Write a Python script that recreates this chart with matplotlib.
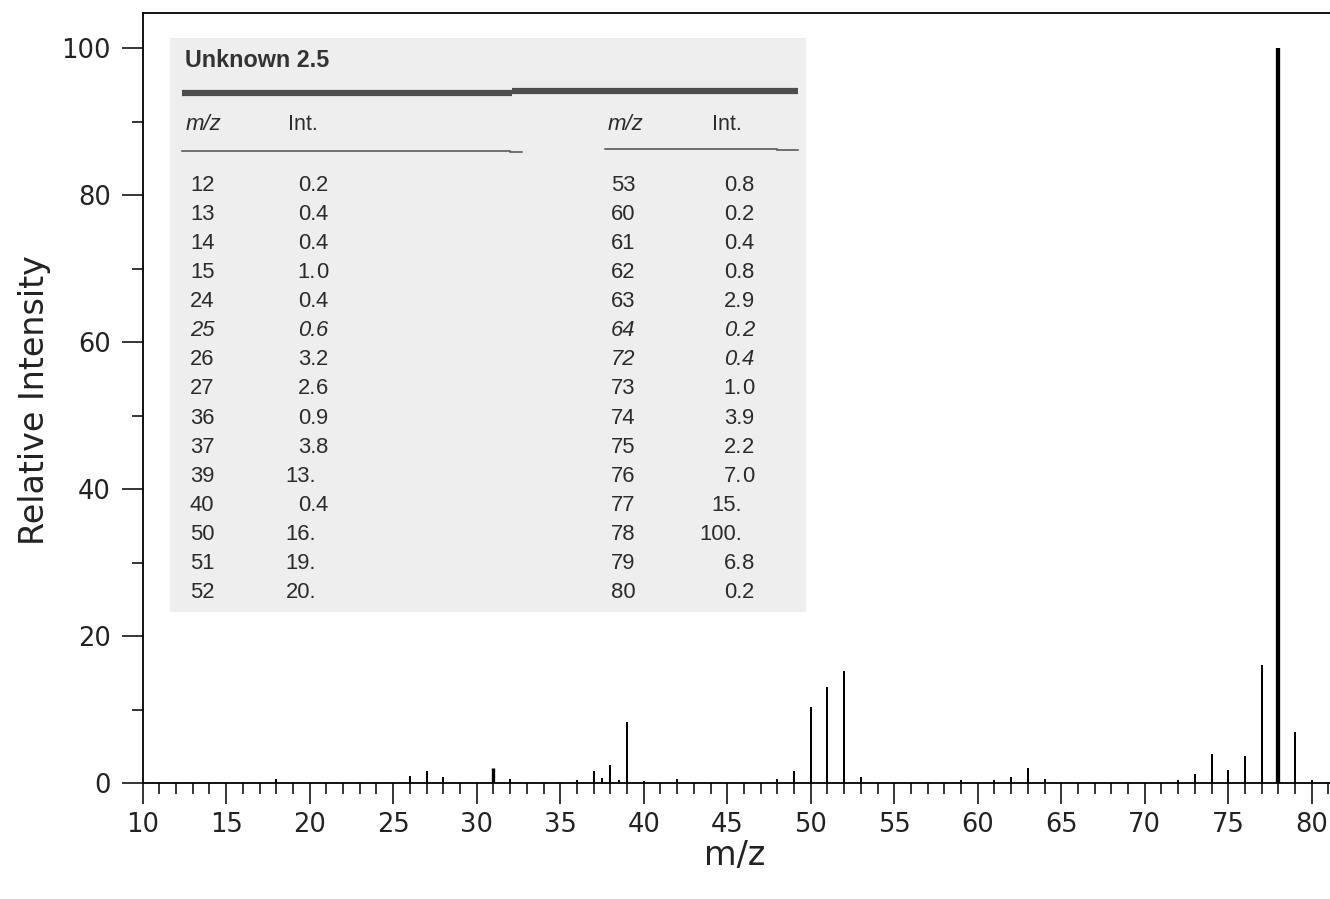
import matplotlib
matplotlib.use("Agg")
import matplotlib.pyplot as plt
from matplotlib.ticker import MultipleLocator
from matplotlib.patches import Rectangle
from matplotlib.lines import Line2D

# ---------------- data ----------------
spec_mz = [18, 26, 27, 28, 31, 32, 36, 37, 37.5, 38, 38.5, 39, 40, 42,
           48, 49, 50, 51, 52, 53, 59, 61, 62, 63, 64,
           72, 73, 74, 75, 76, 77, 78, 79, 80]
spec_int = [0.6, 1.0, 1.6, 0.8, 2.0, 0.5, 0.4, 1.7, 0.7, 2.5, 0.4, 8.3, 0.3, 0.5,
            0.6, 1.6, 10.4, 13.0, 15.2, 0.8, 0.4, 0.4, 0.8, 2.1, 0.5,
            0.4, 1.2, 3.9, 1.8, 3.7, 16.0, 100.0, 6.9, 0.4]
thick_mz = [31, 78]

xticks = list(range(10, 81, 5))
yticks = list(range(0, 101, 20))

table_title = "Unknown 2.5"
table_headers = ["m/z", "Int."]
tab1_mz = ["12", "13", "14", "15", "24", "25", "26", "27", "36", "37", "39", "40", "50", "51", "52"]
tab1_int = ["0.2", "0.4", "0.4", "1.0", "0.4", "0.6", "3.2", "2.6", "0.9", "3.8", "13.", "0.4", "16.", "19.", "20."]
tab2_mz = ["53", "60", "61", "62", "63", "64", "72", "73", "74", "75", "76", "77", "78", "79", "80"]
tab2_int = ["0.8", "0.2", "0.4", "0.8", "2.9", "0.2", "0.4", "1.0", "3.9", "2.2", "7.0", "15.", "100.", "6.8", "0.2"]
tab1_italic = ["25"]
tab2_italic = ["64", "72"]

# ---------------- figure ----------------
W, H = 1330, 899
fig = plt.figure(figsize=(W / 100, H / 100), dpi=100)


def fx(px):
    return px / W


def fy(py):
    return 1 - py / H


left_px, right_px = 142.7, 1330
top_px, base_px = 13.3, 783
ax = fig.add_axes([fx(left_px), fy(base_px), fx(right_px) - fx(left_px), (base_px - top_px) / H])

px_per_unit_x = 16.70
px_per_unit_y = 7.347
ax.set_xlim(10, 10 + (right_px - left_px) / px_per_unit_x)
ax.set_ylim(0, (base_px - top_px) / px_per_unit_y)

norm_mz = [m for m in spec_mz if m not in thick_mz]
norm_int = [v for m, v in zip(spec_mz, spec_int) if m not in thick_mz]
thk_mz = [m for m in spec_mz if m in thick_mz]
thk_int = [v for m, v in zip(spec_mz, spec_int) if m in thick_mz]
ax.vlines(norm_mz, 0, norm_int, colors="black", lw=1.45)
ax.vlines(thk_mz, 0, thk_int, colors="black", lw=[2.4 if m < 50 else 3.1 for m in thk_mz])

ax.spines["right"].set_visible(False)
for s in ("left", "bottom", "top"):
    ax.spines[s].set_linewidth(1.3)
    ax.spines[s].set_color("black")

ax.set_xticks(xticks)
ax.xaxis.set_minor_locator(MultipleLocator(1))
ax.set_yticks(yticks)
ax.yaxis.set_minor_locator(MultipleLocator(10))

tick_font = dict(family="DejaVu Sans", size=18.5)
ax.set_xticklabels([str(t) for t in xticks], color="#222222", **tick_font)
ax.set_yticklabels([str(t) for t in yticks], color="#222222", **tick_font)
ax.tick_params(axis="x", which="major", length=15, width=1.1, direction="out", pad=6)
ax.tick_params(axis="x", which="minor", length=7.7, width=1.1, direction="out")
ax.tick_params(axis="y", which="major", length=15, width=1.1, direction="out", pad=8)
ax.tick_params(axis="y", which="minor", length=8, width=1.1, direction="out")

fig.text(fx(735), fy(855), "m/z", ha="center", va="center", fontsize=24,
         family="DejaVu Sans", color="#222222")
fig.text(fx(35), fy(400), "Relative Intensity", ha="center", va="center", rotation=90,
         fontsize=24, family="DejaVu Sans", color="#222222")

# ---------------- embedded table (scanned page look) ----------------
fig.add_artist(Rectangle((fx(170), fy(612)), fx(806) - fx(170), (612 - 38) / H,
                         transform=fig.transFigure, facecolor="#eeeeee", edgecolor="none", zorder=1))

tfam = ["Liberation Sans", "DejaVu Sans"]
tcol = "#2b2b2b"
fig.text(fx(185), fy(67), table_title, ha="left", va="baseline", fontsize=16.8,
         fontweight="bold", family=tfam, color="#333333", zorder=3)

# thick rule (slight step in the scan)
fig.add_artist(Line2D([fx(182), fx(512)], [fy(93.0), fy(93.0)], lw=4.5, color="#4d4d4d",
                      transform=fig.transFigure, zorder=3, solid_capstyle="butt"))
fig.add_artist(Line2D([fx(512), fx(798)], [fy(91.0), fy(91.0)], lw=4.5, color="#4d4d4d",
                      transform=fig.transFigure, zorder=3, solid_capstyle="butt"))
# thin rules
fig.add_artist(Line2D([fx(182), fx(510)], [fy(151), fy(151)], lw=1.1, color="#4d4d4d",
                      transform=fig.transFigure, zorder=3))
fig.add_artist(Line2D([fx(510), fx(522)], [fy(152), fy(152)], lw=1.1, color="#4d4d4d",
                      transform=fig.transFigure, zorder=3))
fig.add_artist(Line2D([fx(605), fx(777)], [fy(148.5), fy(148.5)], lw=1.1, color="#4d4d4d",
                      transform=fig.transFigure, zorder=3))
fig.add_artist(Line2D([fx(777), fx(798)], [fy(150), fy(150)], lw=1.1, color="#4d4d4d",
                      transform=fig.transFigure, zorder=3))

# headers
for (xm, xi) in [(186, 288), (608, 712)]:
    fig.text(fx(xm), fy(130), table_headers[0], ha="left", va="baseline", fontsize=16,
             fontstyle="italic", family=tfam, color=tcol, zorder=3)
    fig.text(fx(xi), fy(130), table_headers[1], ha="left", va="baseline", fontsize=15.5,
             family=tfam, color=tcol, zorder=3)

row0, row_step = 191, 29.07


def put_column(mzs, ints, italics, x_mz, x_dec):
    for k, (m, v) in enumerate(zip(mzs, ints)):
        y = fy(row0 + k * row_step)
        style = "italic" if m in italics else "normal"
        fig.text(fx(x_mz), y, m, ha="left", va="baseline", fontsize=15.8,
                 fontstyle=style, family=tfam, color=tcol, zorder=3)
        head, frac = v.split(".")
        fig.text(fx(x_dec), y, head + ".", ha="right", va="baseline", fontsize=15.8,
                 fontstyle=style, family=tfam, color=tcol, zorder=3)
        if frac:
            fig.text(fx(x_dec), y, frac, ha="left", va="baseline", fontsize=15.8,
                     fontstyle=style, family=tfam, color=tcol, zorder=3)


put_column(tab1_mz, tab1_int, tab1_italic, 190, 316)
put_column(tab2_mz, tab2_int, tab2_italic, 611, 742)

fig.savefig("out.png", dpi=100)
